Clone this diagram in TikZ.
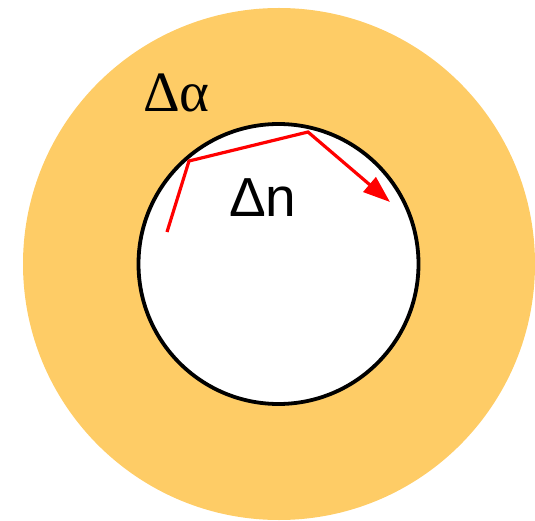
\documentclass[tikz,border=0pt]{standalone}
\usepackage{fontspec}
\setmainfont{Liberation Serif}
\newfontfamily\arialfont{Liberation Sans}
\usetikzlibrary{arrows.meta}
\definecolor{ringorange}{RGB}{254,204,102}
\definecolor{rayred}{RGB}{255,0,0}
\tikzset{
  ring/.style={circle, fill=ringorange, draw=none, inner sep=0pt, minimum size=512pt},
  core/.style={circle, fill=white, draw=black, line width=3.8pt, inner sep=0pt, minimum size=280pt},
  ray/.style={draw=rayred, line width=3.2pt, line join=miter, -{Triangle[length=27pt,width=19pt]}},
  label/.style={inner sep=0pt, anchor=base west, font=\fontsize{57}{60}\selectfont}
}
\begin{document}
\begin{tikzpicture}[x=1pt,y=-1pt]
\useasboundingbox (0,0) rectangle (535,521);
\node[ring] (outer) at (279,264) {};
\node[core] (inner) at (278.5,264) {};
\node[label] (alpha) at (143,112) {Δα};
\node[label, font=\arialfont\fontsize{55}{60}\selectfont] (dn) at (229,217) {Δn};
\coordinate (p0) at (167,232);
\coordinate (p1) at (189,161);
\coordinate (p2) at (308,132);
\coordinate (p3) at (390,202);
\draw[ray] (p0) -- (p1) -- (p2) -- (p3);
\end{tikzpicture}
\end{document}
